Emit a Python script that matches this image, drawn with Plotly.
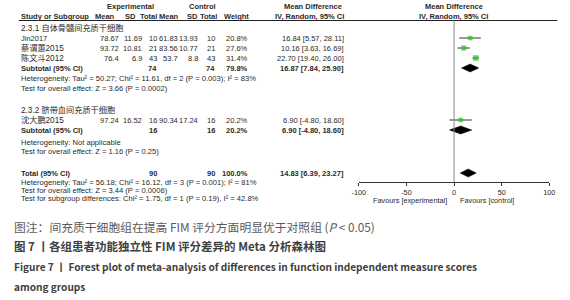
import plotly.graph_objects as go

W, H = 570, 300

# ---------------- data ----------------
groups = ["2.3.1 自体骨髓间充质干细胞", "2.3.2 脐带血间充质干细胞"]
study = ["Jin2017", "蔡谓蕙2015", "陈文斗2012", "沈大鹏2015"]
exp_mean = [78.67, 93.72, 76.4, 97.24]
exp_sd = [11.69, 10.81, 6.9, 16.52]
exp_n = [10, 21, 43, 16]
ctl_mean = [61.83, 83.56, 53.7, 90.34]
ctl_sd = [13.93, 10.77, 8.8, 17.24]
ctl_n = [10, 21, 43, 16]
weight = [20.8, 27.6, 31.4, 20.2]
md = [16.84, 10.16, 22.70, 6.90]
md_lo = [5.57, 3.63, 19.40, -4.80]
md_hi = [28.11, 16.69, 26.00, 18.60]

pooled_label = ["Subtotal (95% CI)", "Subtotal (95% CI)", "Total (95% CI)"]
pooled_n_exp = [74, 16, 90]
pooled_n_ctl = [74, 16, 90]
pooled_weight = [79.8, 20.2, 100.0]
pooled_md = [16.87, 6.90, 14.83]
pooled_lo = [7.84, -4.80, 6.39]
pooled_hi = [25.90, 18.60, 23.27]

group_notes = [
    ["Heterogeneity: Tau² = 50.27; Chi² = 11.61, df = 2 (P = 0.003); I² = 83%",
     "Test for overall effect: Z = 3.66 (P = 0.0002)"],
    ["Heterogeneity: Not applicable",
     "Test for overall effect: Z = 1.16 (P = 0.25)"],
    ["Heterogeneity: Tau² = 56.18; Chi² = 16.12, df = 3 (P = 0.001); I² = 81%",
     "Test for overall effect: Z = 3.44 (P = 0.0006)",
     "Test for subgroup differences: Chi² = 1.75, df = 1 (P = 0.19), I² = 42.8%"],
]

x_ticks = [-100, -50, 0, 50, 100]
x_ticktext = ["-100", "-50", "0", "50", "100"]
favours = ["Favours [experimental]", "Favours [control]"]

captions = [
    "图注：间充质干细胞组在提高 FIM 评分方面明显优于对照组 (<i>P</i> < 0.05)",
    "图 7 丨各组患者功能独立性 FIM 评分差异的 Meta 分析森林图",
    "Figure 7 丨 Forest plot of meta-analysis of differences in function independent measure scores",
    "among groups",
]

# ---------------- layout positions (pixels) ----------------
study_y = [38, 48, 58, 120]
group_y = [28, 110]
pooled_y = [68, 130, 173]
notes_y = [[79, 89], [142, 151], [182, 190, 198]]
AXIS_Y = 182
AX_L, AX_R = 360, 555
LINE_R = 563
TABLE_FONT = "Liberation Sans, Arial, Noto Sans CJK SC"
CJK_FONT = "Noto Sans CJK SC"
TXT = "#2a2a2a"
FS = 7.5

col_right = {"em": 117, "es": 140, "en": 156, "cm": 177, "cs": 198, "cn": 215, "w": 249, "md": 347}
head_right = {"em": 113, "es": 134, "en": 156, "cm": 178, "cs": 198, "cn": 217, "w": 250}

fig = go.Figure()
ann = []


def T(x, y, text, anchor="left", size=FS, color=TXT, family=TABLE_FONT, weight=None):
    f = dict(size=size, color=color, family=family)
    if weight is not None:
        f["weight"] = weight
    ann.append(dict(x=x / W, y=1 - y / H, xref="paper", yref="paper", text=text,
                    showarrow=False, xanchor=anchor, yanchor="middle", font=f))


def fmt_ci(m, lo, hi):
    return f"{m:.2f} [{lo:.2f}, {hi:.2f}]"


# headers
T(126, 6, "<b>Experimental</b>", "center")
T(200, 6, "<b>Control</b>", "center")
T(313, 6, "<b>Mean Difference</b>", "center")
T(457, 6, "<b>Mean Difference</b>", "center")
T(12, 16, "<b>Study or Subgroup</b>")
for key, t in [("em", "Mean"), ("es", "SD"), ("en", "Total"), ("cm", "Mean"),
               ("cs", "SD"), ("cn", "Total"), ("w", "Weight")]:
    T(head_right[key], 16, f"<b>{t}</b>", "right")
T(col_right["md"], 16, "<b>IV, Random, 95% CI</b>", "right")
T(457, 16, "<b>IV, Random, 95% CI</b>", "center")

# group labels
for gy, g in zip(group_y, groups):
    T(12, gy, g, size=8.2)

# study rows
for i, s in enumerate(study):
    y = study_y[i]
    T(12, y, s, size=(FS if s.isascii() else 8.2))
    T(col_right["em"], y, str(exp_mean[i]), "right")
    T(col_right["es"], y, str(exp_sd[i]), "right")
    T(col_right["en"], y, str(exp_n[i]), "right")
    T(col_right["cm"], y, str(ctl_mean[i]), "right")
    T(col_right["cs"], y, str(ctl_sd[i]), "right")
    T(col_right["cn"], y, str(ctl_n[i]), "right")
    T(col_right["w"], y, f"{weight[i]:.1f}%", "right")
    T(col_right["md"], y, fmt_ci(md[i], md_lo[i], md_hi[i]), "right")

# pooled rows
for i, lab in enumerate(pooled_label):
    y = pooled_y[i]
    T(12, y, f"<b>{lab}</b>")
    T(col_right["en"], y, f"<b>{pooled_n_exp[i]}</b>", "right")
    T(col_right["cn"], y, f"<b>{pooled_n_ctl[i]}</b>", "right")
    T(col_right["w"], y, f"<b>{pooled_weight[i]:.1f}%</b>", "right")
    T(col_right["md"], y, "<b>" + fmt_ci(pooled_md[i], pooled_lo[i], pooled_hi[i]) + "</b>", "right")

# notes
for ys, notes in zip(notes_y, group_notes):
    for y, n in zip(ys, notes):
        T(12, y, n, size=7.6)

# favours
T(452, 200, favours[0], "right", size=7.3)
T(462, 200, favours[1], "left", size=7.3)

# captions
T(5, 226, captions[0], size=11.8, color="#5a5a5a", family=CJK_FONT)
T(5, 246, captions[1], size=11.5, color="#404040", family=CJK_FONT, weight="bold")
T(5, 266, captions[2], size=10.1, color="#404040", family=CJK_FONT, weight="bold")
T(5, 286, captions[3], size=10.1, color="#404040", family=CJK_FONT, weight="bold")

# ---------------- plot marks ----------------
fig.add_trace(go.Scatter(
    x=md, y=study_y, mode="markers",
    marker=dict(symbol="square", color="#1fc41f", size=[3 + w * 0.08 for w in weight],
                line=dict(width=0)),
    error_x=dict(type="data", symmetric=False,
                 array=[h - m for h, m in zip(md_hi, md)],
                 arrayminus=[m - l for m, l in zip(md, md_lo)],
                 color="#333333", thickness=1, width=0),
    showlegend=False, hoverinfo="skip"))

DH = 4
for i in range(len(pooled_md)):
    y = pooled_y[i]
    fig.add_trace(go.Scatter(
        x=[pooled_lo[i], pooled_md[i], pooled_hi[i], pooled_md[i], pooled_lo[i]],
        y=[y, y - DH, y, y + DH, y], mode="lines", fill="toself",
        fillcolor="black", line=dict(color="black", width=0.5),
        showlegend=False, hoverinfo="skip"))

shapes = [
    dict(type="line", xref="paper", yref="y", x0=12 / W, x1=LINE_R / W, y0=20.5, y1=20.5,
         line=dict(color="#222222", width=1)),
    dict(type="line", xref="x", yref="y", x0=0, x1=0, y0=20.5, y1=AXIS_Y,
         line=dict(color="#8a8a8a", width=1)),
]

fig.update_layout(
    width=W, height=H, margin=dict(l=0, r=0, t=0, b=0),
    paper_bgcolor="white", plot_bgcolor="white",
    annotations=ann, shapes=shapes,
    xaxis=dict(domain=[AX_L / W, AX_R / W], range=[-100, 100], tickvals=x_ticks,
               ticktext=x_ticktext, anchor="free", position=1 - AXIS_Y / H,
               showline=True, linecolor="#333333", linewidth=1, ticks="outside",
               ticklen=3, tickcolor="#333333", showgrid=False, zeroline=False,
               tickfont=dict(size=7.3, color=TXT, family=TABLE_FONT), fixedrange=True),
    yaxis=dict(domain=[0, 1], range=[H, 0], visible=False, fixedrange=True),
)

fig.write_html("out.html", config={"displayModeBar": False},
               post_script="document.body.style.margin='0';document.body.style.overflow='hidden';")
